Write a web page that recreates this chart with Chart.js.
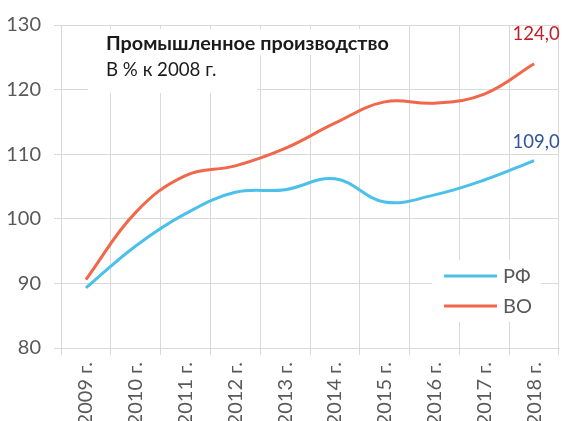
<!DOCTYPE html>
<html><head><meta charset="utf-8">
<script src="https://cdn.jsdelivr.net/npm/chart.js@4"></script>
<style>html,body{margin:0;padding:0;background:#fff}#wrap{width:562px;height:421px}</style>
</head><body><div id="wrap"><canvas id="c" width="562" height="421"></canvas></div>
<script>
const categories = ['2009 г.', '2010 г.', '2011 г.', '2012 г.', '2013 г.', '2014 г.', '2015 г.', '2016 г.', '2017 г.', '2018 г.'];
const seriesRF = [89.3, 95.8, 100.8, 104.1, 104.5, 106.2, 102.6, 103.7, 106.0, 109.0];
const seriesVO = [90.6, 101.0, 106.7, 108.2, 110.9, 114.8, 118.1, 117.9, 119.3, 124.0];
const yTicks = [80, 90, 100, 110, 120, 130];
const titleText = 'Промышленное производство';
const subtitleText = 'В % к 2008 г.';
const labelRF = 'РФ';
const labelVO = 'ВО';

const FONT = 'Lato';
const BLUE = '#4BC0EA';
const ORANGE = '#F0674A';

const overlay = {
  id: 'overlay',
  beforeDatasetsDraw(chart) {
    const ctx = chart.ctx, a = chart.chartArea;
    ctx.save();
    ctx.fillStyle = '#ffffff';
    ctx.fillRect(a.left + 27, a.top + 4, 317, 26);
    ctx.fillRect(a.left + 27, a.top + 30, 169, 38);
    ctx.fillRect(a.left + 371, a.top + 235, 109, 62);
    ctx.restore();
  },
  afterDatasetsDraw(chart) {
    const ctx = chart.ctx, a = chart.chartArea;
    ctx.save();
    // title
    ctx.fillStyle = '#1a1a1a';
    ctx.textAlign = 'left';
    ctx.textBaseline = 'alphabetic';
    ctx.font = 'bold 19.8px ' + FONT;
    ctx.fillText(titleText, a.left + 45, a.top + 25);
    ctx.font = '18.7px ' + FONT;
    ctx.fillText(subtitleText, a.left + 45, a.top + 51);
    // legend
    const ly = [a.top + 251, a.top + 281];
    chart.data.datasets.forEach((ds, i) => {
      ctx.strokeStyle = ds.borderColor;
      ctx.lineWidth = 3;
      ctx.beginPath();
      ctx.moveTo(a.left + 383, ly[i]);
      ctx.lineTo(a.left + 436, ly[i]);
      ctx.stroke();
      ctx.fillStyle = '#595959';
      ctx.font = '20px ' + FONT;
      ctx.textBaseline = 'middle';
      ctx.fillText(ds.label, a.left + 442, ly[i] + 1);
    });
    // data labels on last points
    const lblColors = ['#2F5597', '#C0202A'];
    const lblOffsets = [12.5, 24];
    chart.data.datasets.forEach((ds, i) => {
      const meta = chart.getDatasetMeta(i);
      const last = meta.data.length - 1;
      const pt = meta.data[last];
      const v = ds.data[last];
      ctx.fillStyle = lblColors[i];
      ctx.font = '18.5px ' + FONT;
      ctx.textAlign = 'center';
      ctx.textBaseline = 'alphabetic';
      ctx.fillText(v.toFixed(1).replace('.', ','), pt.x + 2, pt.y - lblOffsets[i]);
    });
    ctx.restore();
  }
};

new Chart(document.getElementById('c'), {
  type: 'line',
  data: {
    labels: categories,
    datasets: [
      { label: labelRF, data: seriesRF, borderColor: BLUE, backgroundColor: BLUE },
      { label: labelVO, data: seriesVO, borderColor: ORANGE, backgroundColor: ORANGE }
    ]
  },
  options: {
    responsive: false,
    animation: false,
    layout: { padding: { left: 0, right: 3, top: 23, bottom: 0 } },
    plugins: { legend: { display: false }, tooltip: { enabled: false }, title: { display: false } },
    elements: {
      point: { radius: 0, hoverRadius: 0 },
      line: { tension: 0.4, borderWidth: 3, capBezierPoints: true }
    },
    scales: {
      x: {
        offset: true,
        grid: { offset: true, color: '#D9D9D9', lineWidth: 1, tickLength: 7 },
        border: { display: true, color: '#D9D9D9' },
        ticks: { minRotation: 90, maxRotation: 90, autoSkip: false, padding: 7, color: '#595959', font: { family: FONT, size: 20 } },
        afterFit(s) { s.height = 73; s.paddingLeft = 0; s.paddingRight = 0; }
      },
      y: {
        min: 80, max: 130,
        afterBuildTicks(s) { s.ticks = yTicks.map(v => ({ value: v })); },
        grid: { color: '#D9D9D9', lineWidth: 1, tickLength: 7 },
        border: { display: false },
        ticks: { padding: 13, color: '#595959', font: { family: FONT, size: 20 } },
        afterFit(s) { s.width = 61; }
      }
    }
  },
  plugins: [overlay]
});
</script>
</body></html>
